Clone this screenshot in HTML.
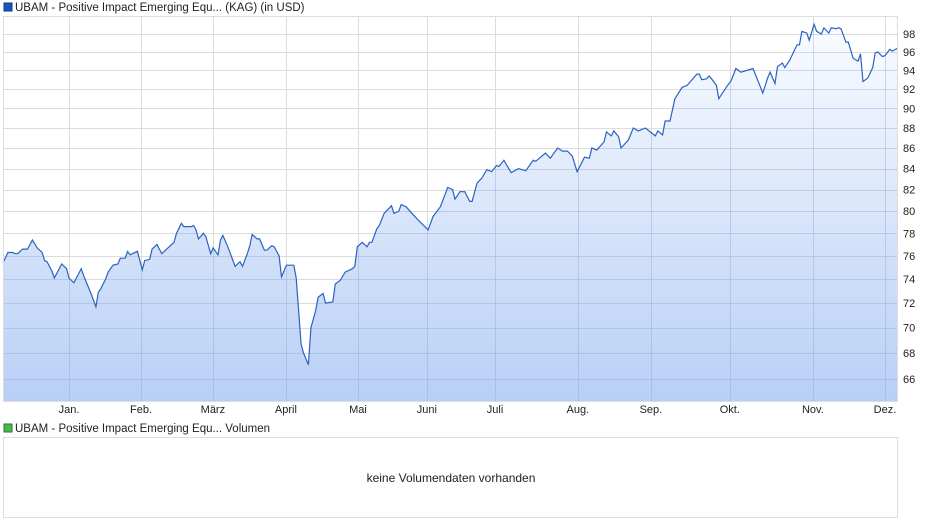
<!DOCTYPE html>
<html><head><meta charset="utf-8"><style>
body{margin:0;background:#fff;font-family:"Liberation Sans",Arial,sans-serif;}
svg{display:block}
</style></head><body>
<svg id="chart" width="940" height="526" font-family="Liberation Sans, Arial, sans-serif">
<defs><linearGradient id="fillg" x1="0" y1="0" x2="0" y2="1"><stop offset="0" stop-color="#fafcff"/><stop offset="1" stop-color="#b8cff5"/></linearGradient>
<clipPath id="areaclip"><path id="clipArea"/></clipPath></defs>
<rect x="4" y="3" width="8" height="8" fill="#1c55b8" stroke="#0d3a8a"/>
<text x="15" y="11" font-size="11.5" fill="#222">UBAM - Positive Impact Emerging Equ... (KAG) (in USD)</text>
<g id="grid"></g>
<path id="area" fill="url(#fillg)"/>
<g id="vgrid" clip-path="url(#areaclip)"></g>
<path id="line" fill="none" stroke="#2b62c2" stroke-width="1.2"/>
<rect x="3.5" y="16.5" width="894" height="385" fill="none" stroke="#ddd"/>
<g id="labels" font-size="11" fill="#222"></g>
<rect x="4" y="424" width="8" height="8" fill="#4cb84c" stroke="#2a7a2a"/>
<text x="15" y="432" font-size="11.5" fill="#222">UBAM - Positive Impact Emerging Equ... Volumen</text>
<rect x="3.5" y="437.5" width="894" height="80" fill="none" stroke="#ddd"/>
<text x="451" y="482" font-size="12" fill="#222" text-anchor="middle">keine Volumendaten vorhanden</text>
</svg>
<script>
const days=[-27,-25,-23,-22,-21,-19,-17,-15,-13,-11,-10,-9,-7,-6,-3,-1,0,2,5,6,7,9,11,12,13,15,16,18,20,21,23,24,25,28,30,31,33,34,36,38,40,43,44,46,47,50,51,52,53,55,56,58,59,61,62,63,65,68,70,71,73,74,75,77,78,80,81,83,84,86,87,89,92,93,95,96,98,99,101,102,104,105,108,109,111,113,114,116,117,118,120,122,123,124,126,127,129,132,133,135,136,138,140,142,147,149,152,155,157,158,160,162,164,165,167,169,171,173,175,176,178,181,184,187,190,191,192,195,197,200,202,204,206,208,211,213,214,216,219,220,222,223,225,226,229,231,233,236,240,241,243,244,246,248,251,253,257,258,259,261,262,263,265,266,269,271,273,275,280,282,284,286,287,289,290,292,293,295,298,299,300,302,303,305,306,308,309,311,312,314,315,316,318,319,321,323,324,325,327,329,330,331,333,334,336,337,339];
const prices=[75.4,76.3,76.3,76.2,76.2,76.6,76.6,77.4,76.7,76.3,75.6,75.5,74.7,74.1,75.3,74.9,74.1,73.7,74.9,74.3,73.8,72.8,71.7,72.9,73.2,74.0,74.6,75.2,75.3,75.8,75.8,76.4,76.1,76.4,74.8,75.6,75.7,76.6,77.0,76.2,76.6,77.2,78.0,78.9,78.6,78.6,78.7,78.3,77.5,78.0,77.7,76.2,76.7,76.1,77.4,77.8,76.8,75.1,75.5,75.1,76.2,76.9,77.9,77.5,77.5,76.5,76.5,76.9,76.8,76.0,74.2,75.2,75.2,74.1,68.7,68.0,67.1,70.0,71.4,72.5,72.8,72.0,72.1,73.6,73.9,74.6,74.7,74.9,75.1,76.8,77.2,76.8,77.2,77.2,78.4,78.7,79.8,80.5,79.8,80.0,80.6,80.4,79.9,79.4,78.3,79.5,80.4,82.2,82.0,81.1,81.8,81.8,80.9,80.9,82.6,83.1,83.9,83.7,84.3,84.2,84.8,83.6,84.0,83.8,84.8,84.7,84.9,85.5,85.0,86.0,85.7,85.7,85.2,83.7,85.1,85.0,86.0,85.8,86.6,87.6,87.2,87.7,87.1,86.0,86.8,88.0,87.7,88.0,87.2,87.7,87.3,88.7,88.7,91.0,92.2,92.4,93.6,93.6,93.0,93.1,93.4,93.1,92.4,91.0,92.2,92.9,94.2,93.8,94.2,92.9,91.6,93.2,93.8,92.6,94.4,94.8,94.3,95.1,96.8,96.8,98.3,98.1,97.3,99.1,98.3,98.0,98.7,98.1,98.7,98.6,98.7,98.6,97.1,97.1,95.3,95.0,95.8,92.8,93.2,94.3,95.9,96.0,95.5,95.6,96.3,96.1,96.4];
const yTicks=[66,68,70,72,74,76,78,80,82,84,86,88,90,92,94,96,98];
const monthNames=["Jan.","Feb.","März","April","Mai","Juni","Juli","Aug.","Sep.","Okt.","Nov.","Dez."];
const monthTickDays=[0,29.5,58.9,88.8,118.3,146.5,174.4,208.3,238.2,270.5,304.5,334];
const X=d=>69+d*2.443;
const Y=v=>34+873*Math.log(98/v);
const ns="http://www.w3.org/2000/svg";
const grid=document.getElementById('grid'),vgrid=document.getElementById('vgrid'),labels=document.getElementById('labels');
yTicks.forEach(t=>{
 const l=document.createElementNS(ns,'line');
 l.setAttribute('x1',4);l.setAttribute('x2',898);l.setAttribute('y1',Math.round(Y(t))+.5);l.setAttribute('y2',Math.round(Y(t))+.5);
 l.setAttribute('stroke','#dcdcdc');
 
 
 grid.appendChild(l);
 const l2=l.cloneNode();l2.setAttribute('stroke','rgba(140,165,210,0.4)');
 
 
 vgrid.appendChild(l2);
 const tx=document.createElementNS(ns,'text');
 tx.setAttribute('x',903);tx.setAttribute('y',Y(t)+4);tx.textContent=t;
 
 
 labels.appendChild(tx);
});
monthTickDays.forEach((d,i)=>{
 const x=Math.round(X(d))+.5;
 const l=document.createElementNS(ns,'line');
 l.setAttribute('x1',x);l.setAttribute('x2',x);l.setAttribute('y1',17);l.setAttribute('y2',401);
 l.setAttribute('stroke','#dcdcdc');
 
 
 grid.appendChild(l);
 const l2=l.cloneNode();l2.setAttribute('stroke','rgba(140,165,210,0.4)');
 
 
 vgrid.appendChild(l2);
 const tx=document.createElementNS(ns,'text');
 tx.setAttribute('x',X(d));tx.setAttribute('y',413);tx.setAttribute('text-anchor','middle');tx.textContent=monthNames[i];
 
 
 labels.appendChild(tx);
});
let p='';
days.forEach((d,i)=>{p+=(i?'L':'M')+X(d).toFixed(1)+','+Y(prices[i]).toFixed(1);});
document.getElementById('line').setAttribute('d',p);
const ap=p+'L'+X(days[days.length-1]).toFixed(1)+',401L'+X(days[0]).toFixed(1)+',401Z';
document.getElementById('area').setAttribute('d',ap);
document.getElementById('clipArea').setAttribute('d',ap);
</script>
</body></html>
